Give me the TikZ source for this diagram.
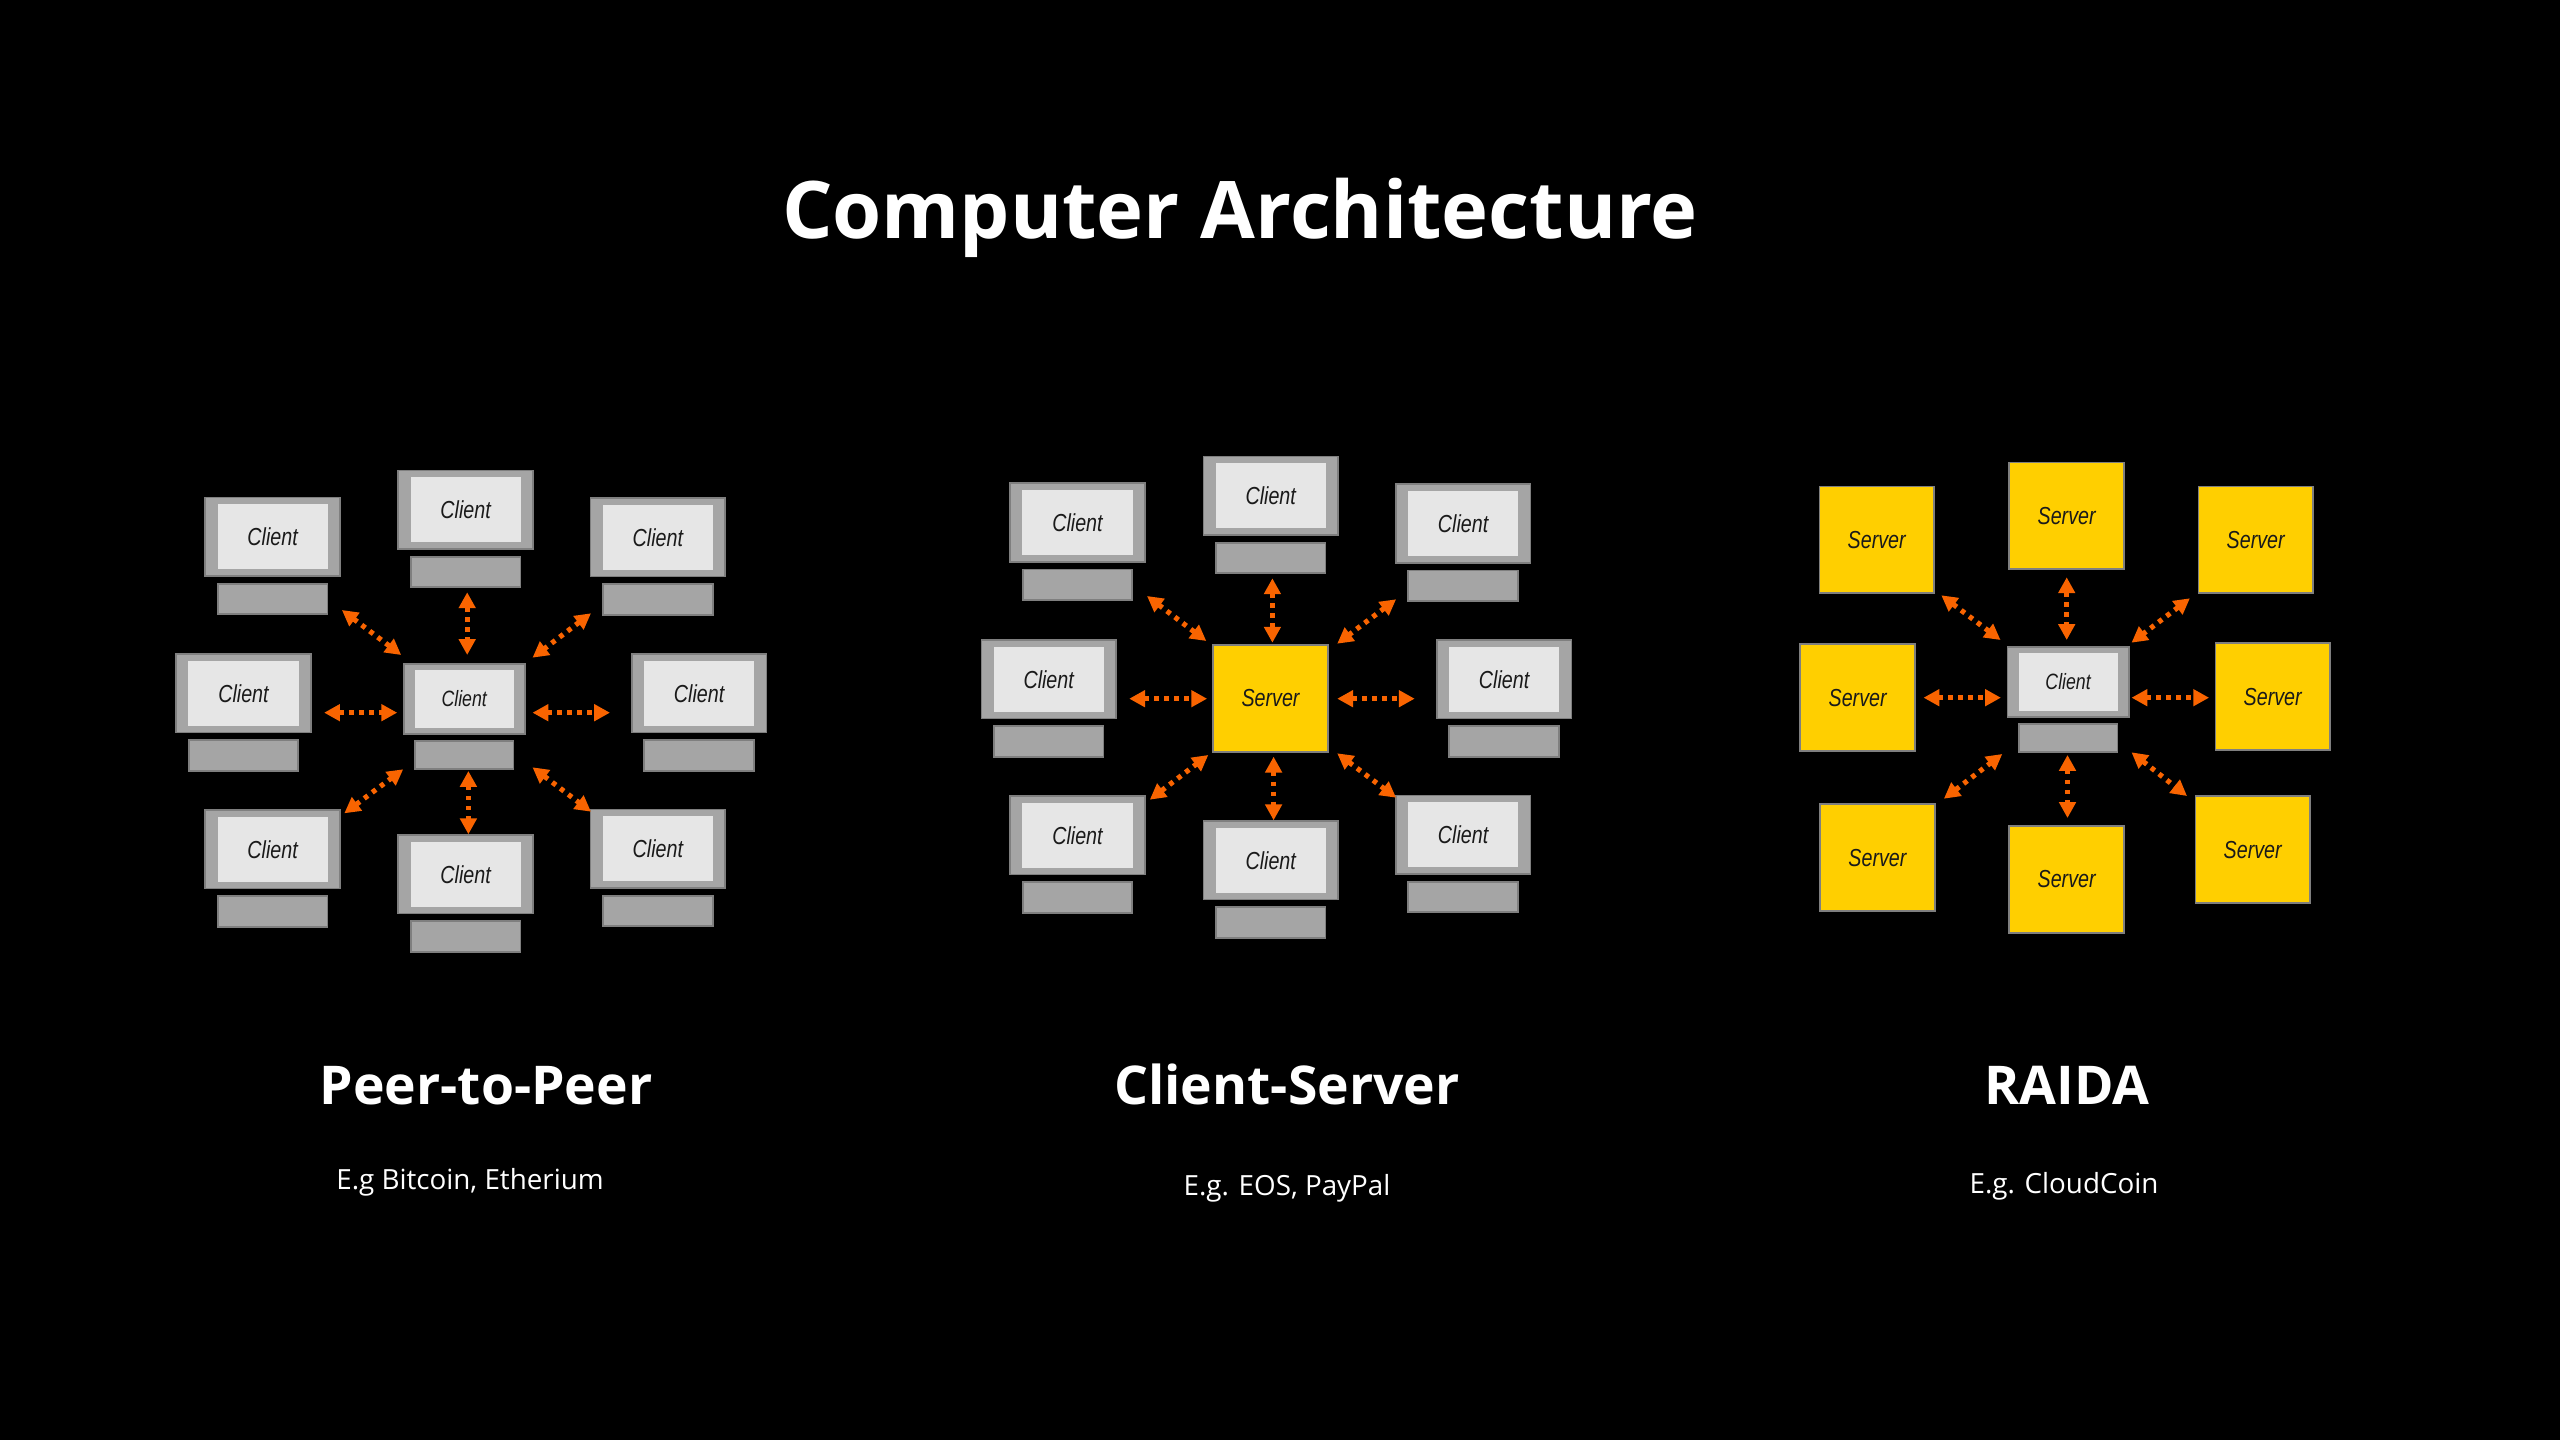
\documentclass[tikz,border=0pt]{standalone}
\usepackage{fontspec}
\usetikzlibrary{arrows.meta}
\setmainfont{Open Sans}
\newfontfamily\pcfont[FakeStretch=0.8]{Liberation Sans}

\definecolor{pcgrey}{HTML}{A5A5A5}
\definecolor{pcedge}{HTML}{7F7F7F}
\definecolor{pcscreen}{HTML}{E6E6E6}
\definecolor{srvyellow}{HTML}{FFCF00}
\definecolor{linkorange}{HTML}{F96400}
\definecolor{labelink}{HTML}{1A1A1A}

\tikzset{
  pcframe/.style={draw=pcedge,fill=pcgrey,line width=0.5pt,inner sep=0pt,transform shape,
    minimum width=1.345cm,minimum height=0.785cm},
  pcglass/.style={fill=pcscreen,inner sep=0pt,transform shape,text=labelink,
    font=\pcfont\itshape\fontsize{7}{9}\selectfont,minimum width=1.10cm,minimum height=0.65cm},
  pcbase/.style={draw=pcedge,fill=pcgrey,line width=0.5pt,inner sep=0pt,transform shape,
    minimum width=1.095cm,minimum height=0.305cm},
  srvbox/.style={draw=pcedge,fill=srvyellow,line width=0.5pt,inner sep=0pt,text=labelink,
    font=\pcfont\itshape\fontsize{7}{9}\selectfont,minimum width=1.145cm,minimum height=1.065cm},
  dotlink/.style={draw=linkorange,line width=1.45pt,dash pattern=on 1.3pt off 1.55pt,
    {Triangle[length=4.5pt,width=4.6pt]}-{Triangle[length=4.5pt,width=4.6pt]}},
  headline/.style={text=white,anchor=base,font=\bfseries\fontsize{22.6}{28}\selectfont},
  grouphead/.style={text=white,anchor=base,font=\bfseries\fontsize{15.2}{18}\selectfont},
  groupnote/.style={text=white,anchor=base,font=\fontsize{7.9}{9}\selectfont}
}

\newcommand{\clientpc}[4][1]{%
  \node[pcframe,scale=#1] (#2f) at (#3,#4) {};
  \node[pcglass,scale=#1] (#2) at (#3,#4) {Client};
  \node[pcbase,scale=#1] (#2b) at (#3,{#4+62.2*#1}) {};
}

\begin{document}
\begin{tikzpicture}[x=0.01cm,y=-0.01cm]

\fill[black] (0,0) rectangle (2560,1440);

\node[headline] (title) at (1240,239) {Computer Architecture};

% peer to peer
\foreach \pcname/\pcx/\pcy in {pa/272.6/536.7,pb/465.6/509.8,pc/657.9/537.3,pd/243.5/693.3,
  pe/699.1/693.3,pf/272.6/849.3,pg/465.6/874.3,ph/657.9/848.7}{
  \clientpc{\pcname}{\pcx}{\pcy}
}
\clientpc[0.9]{phub}{464.2}{699}
\foreach \lnk/\xa/\ya/\xb/\yb in {pla/341.9/610/401.2/655,plb/467.2/592.3/467.2/655,
  plc/591/613.3/532.5/657.7,pld/324.1/712.7/397.2/712.7,ple/532.5/712.7/610/712.7,
  plf/344.3/813.3/403.2/769.3,plg/468.4/771/468.4/834.3,plh/532.5/767.3/591/811.7}{
  \coordinate (\lnk a) at (\xa,\ya);
  \coordinate (\lnk b) at (\xb,\yb);
  \draw[dotlink] (\lnk a) -- (\lnk b);
}
\node[grouphead] (pname) at (486,1104) {Peer-to-Peer};
\node[groupnote] (pnote) at (470,1189.5) {E.g Bitcoin, Etherium};

% client server
\foreach \pcname/\pcx/\pcy in {ca/1077.5/522.5,cb/1270.7/495.8,cc/1463.1/523.5,cd/1048.7/679.3,
  ce/1504.1/679.3,cf/1077.5/835.3,cg/1270.7/860.3,ch/1463.1/834.8}{
  \clientpc{\pcname}{\pcx}{\pcy}
}
\node[srvbox] (chub) at (1270.5,698.5) {Server};
\foreach \lnk/\xa/\ya/\xb/\yb in {cla/1147/596/1206.3/641,clb/1272.4/578.3/1272.4/642.7,
  clc/1396.1/599.3/1337.2/643.7,cld/1129.2/698.7/1207.1/698.7,cle/1337.2/698.7/1414.7/698.7,
  clf/1149.8/799.7/1208.3/755,clg/1273.6/756.7/1273.6/820.3,clh/1337.2/753.3/1396.1/797.7}{
  \coordinate (\lnk a) at (\xa,\ya);
  \coordinate (\lnk b) at (\xb,\yb);
  \draw[dotlink] (\lnk a) -- (\lnk b);
}
\node[grouphead] (cname) at (1287,1104) {Client-Server};
\node[groupnote] (cnote) at (1287,1195.5) {E.g. EOS, PayPal};

% raida
\foreach \srvname/\srvx/\srvy in {ra/1876.7/539.8,rb/2066.6/515.8,rc/2255.7/539.8,rd/1857.6/697.6,
  re/2272.7/696.6,rf/1877.4/857.6,rg/2066.6/879.5,rh/2252.7/849.6}{
  \node[srvbox] (\srvname) at (\srvx,\srvy) {Server};
}
\clientpc[0.9]{rhub}{2068.1}{682}
\foreach \lnk/\xa/\ya/\xb/\yb in {rla/1941.3/595.3/2000.5/640,rlb/2066.7/577.3/2066.7/640,
  rlc/2189.9/598.3/2131.5/642.7,rld/1923.5/697.7/2000.9/697.7,rle/2131.5/697.7/2209.1/697.7,
  rlf/1943.9/798.7/2002.3/754,rlg/2067.5/755/2067.5/818,rlh/2131.5/752.3/2187/796}{
  \coordinate (\lnk a) at (\xa,\ya);
  \coordinate (\lnk b) at (\xb,\yb);
  \draw[dotlink] (\lnk a) -- (\lnk b);
}
\node[grouphead] (rname) at (2067,1104) {RAIDA};
\node[groupnote] (rnote) at (2064,1193.5) {E.g. CloudCoin};

\end{tikzpicture}
\end{document}
